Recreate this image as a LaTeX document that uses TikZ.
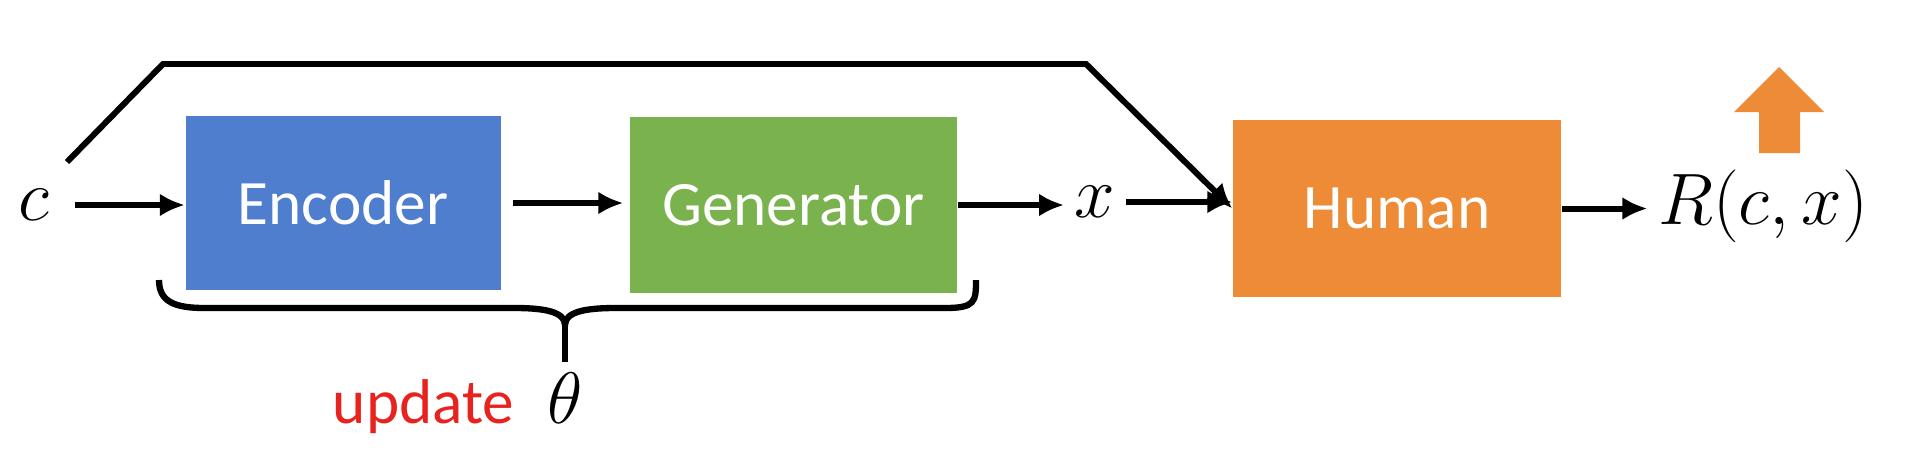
\documentclass[tikz,border=0pt]{standalone}
\usepackage{fontspec}
\setmainfont{Carlito}
\usepackage{tikz}
\usetikzlibrary{arrows.meta}
\definecolor{EncBlue}{HTML}{4F7ECF}
\definecolor{GenGreen}{HTML}{7AB34E}
\definecolor{HumOrange}{HTML}{ED8B36}
\definecolor{UpdRed}{HTML}{E8231F}
\tikzset{
    block/.style={rectangle, text=white, inner sep=0pt, font=\fontsize{18}{22}\selectfont},
    var/.style={inner sep=0.1cm, font=\fontsize{21}{25}\selectfont},
    flow/.style={line width=1.7pt, -{Latex[length=2.5mm,width=2.3mm]}},
    plain/.style={line width=1.8pt}
}

\begin{document}
\begin{tikzpicture}
    \useasboundingbox (0,0) rectangle (19.12,-4.58);

    % main chain
    \node[var] (c) at (0.34,-2.05) {$c$};
    \node[block, fill=EncBlue, minimum width=3.15cm, minimum height=1.74cm] (enc) at (3.43,-2.03) {Encoder};
    \node[block, fill=GenGreen, minimum width=3.27cm, minimum height=1.76cm] (gen) at (7.935,-2.05) {Generator};
    \node[var] (x) at (10.95,-2.02) {$x$};
    \node[block, fill=HumOrange, minimum width=3.28cm, minimum height=1.77cm] (hum) at (13.97,-2.085) {Human};
    \node[var] (R) at (17.63,-2.06) {$R(c,x)$};

    \draw[flow, shorten <=1.5mm] (c.east) -- (c.east -| enc.west);
    \draw[flow, shorten <=1.2mm, shorten >=0.6mm] (enc.east) -- (enc.east -| gen.west);
    \draw[flow] (gen.east) -- (gen.east -| x.west);
    \draw[flow] (x.east) -- (x.east -| hum.west);
    \draw[flow] (hum.east) -- (hum.east -| R.west);

    % c goes round to the human
    \coordinate (loopstart) at (0.67,-1.62);
    \draw[flow] (loopstart) -- (1.63,-0.64) -- (10.86,-0.64) -- (hum.west);

    % reward goes up
    \fill[HumOrange] (17.34,-1.12) -- (17.79,-0.67) -- (18.24,-1.12) -- (18.00,-1.12)
        -- (18.00,-1.53) -- (17.59,-1.53) -- (17.59,-1.12) -- cycle;

    % brace over encoder and generator
    \coordinate (bracetip) at (5.65,-3.25);
    \draw[plain] (1.59,-2.80) .. controls (1.59,-3.02) and (1.75,-3.08) .. (2.05,-3.08)
        -- (5.15,-3.08) .. controls (5.45,-3.08) and (5.65,-3.12) .. (bracetip)
        .. controls (5.65,-3.12) and (5.85,-3.08) .. (6.15,-3.08)
        -- (9.45,-3.08) .. controls (9.75,-3.08) and (9.76,-3.02) .. (9.76,-2.80);
    \node[var] (theta) at (5.65,-3.98) {$\theta$};
    \draw[plain] (bracetip) -- (theta.north);
    \node[anchor=base east, text=UpdRed, font=\fontsize{18}{22}\selectfont] (upd) at ([xshift=-0.1cm]theta.base west) {update};
\end{tikzpicture}
\end{document}
